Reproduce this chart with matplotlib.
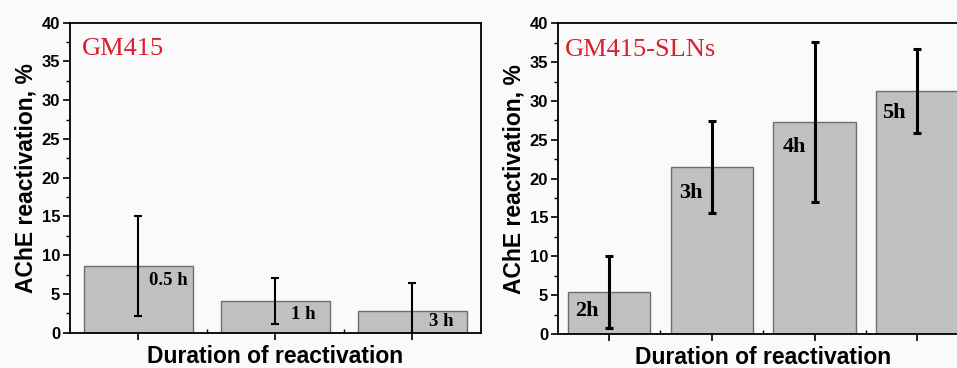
import matplotlib
matplotlib.use("Agg")
import matplotlib.pyplot as plt
from matplotlib.ticker import MultipleLocator, FixedLocator

# ---------------------------------------------------------------------------
# data
# ---------------------------------------------------------------------------
free_labels = ["0.5 h", "1 h", "3 h"]
free_mean = [8.65, 4.1, 2.85]
free_err = [6.45, 3.0, 3.5]

sln_labels = ["2h", "3h", "4h", "5h"]
sln_mean = [5.45, 21.5, 27.25, 31.3]
sln_err = [4.65, 5.9, 10.3, 5.45]

# label anchor positions (data coords) inside the bars
free_label_pos = [(1.22, 6.8), (2.2, 2.3), (3.21, 1.5)]
sln_label_pos = [(0.78, 2.9), (1.8, 18.2), (2.8, 24.1), (3.77, 28.4)]

BAR_FACE = "#c0c0c0"
BAR_EDGE = "#6e6e6e"
TITLE_RED = "#d8202e"
SANS = "Liberation Sans"
SERIF = "Liberation Serif"

fig = plt.figure(figsize=(9.57, 3.68), dpi=100)
fig.patch.set_facecolor("#fafafa")


def draw_panel(ax, labels, means, errs, label_pos, title, title_x,
               lw_err, cap, label_size):
    xs = list(range(1, len(means) + 1))
    ax.bar(xs, means, width=0.8, color=BAR_FACE, edgecolor=BAR_EDGE,
           linewidth=1.0, zorder=2)
    ax.errorbar(xs, means, yerr=errs, fmt="none", ecolor="black",
                elinewidth=lw_err, capsize=cap, capthick=lw_err, zorder=3)
    for (lx, ly), lab in zip(label_pos, labels):
        ax.text(lx, ly, lab, ha="center", va="center", fontsize=label_size,
                fontweight="bold", family=SERIF, zorder=4)
    ax.text(title_x, 36.6, title, ha="left", va="center", fontsize=19,
            color=TITLE_RED, family=SERIF)

    ax.set_facecolor("#fafafa")
    ax.set_xlim(0.5, len(means) + 0.5)
    ax.set_ylim(0, 40)
    ax.yaxis.set_major_locator(MultipleLocator(5))
    ax.yaxis.set_minor_locator(MultipleLocator(2.5))
    ax.xaxis.set_major_locator(FixedLocator(xs))
    ax.xaxis.set_minor_locator(FixedLocator([x + 0.5 for x in xs[:-1]]))
    ax.set_xticklabels([])
    ax.tick_params(axis="both", which="major", direction="out", length=5,
                   width=1.2, labelsize=12, pad=2)
    ax.tick_params(axis="both", which="minor", direction="out", length=3,
                   width=1.0)
    ax.tick_params(axis="x", which="minor", direction="in", length=3)
    for lab in ax.get_yticklabels():
        lab.set_fontweight("bold")
        lab.set_family(SANS)
    for sp in ax.spines.values():
        sp.set_linewidth(1.3)
    ax.set_ylabel("AChE reactivation, %", fontsize=16.5, fontweight="bold",
                  family=SANS, labelpad=3)
    ax.set_xlabel("Duration of reactivation", fontsize=16.5, fontweight="bold",
                  family=SANS, labelpad=2)


ax1 = fig.add_axes([0.0731, 0.0959, 0.4295, 0.8424])
draw_panel(ax1, free_labels, free_mean, free_err, free_label_pos,
           "GM415", 0.59, 1.5, 3, 13.5)

ax2 = fig.add_axes([0.5828, 0.0924, 0.4293, 0.8443])
draw_panel(ax2, sln_labels, sln_mean, sln_err, sln_label_pos,
           "GM415-SLNs", 0.57, 2.2, 3, 16)

fig.savefig("out.png", dpi=100, facecolor=fig.get_facecolor())
